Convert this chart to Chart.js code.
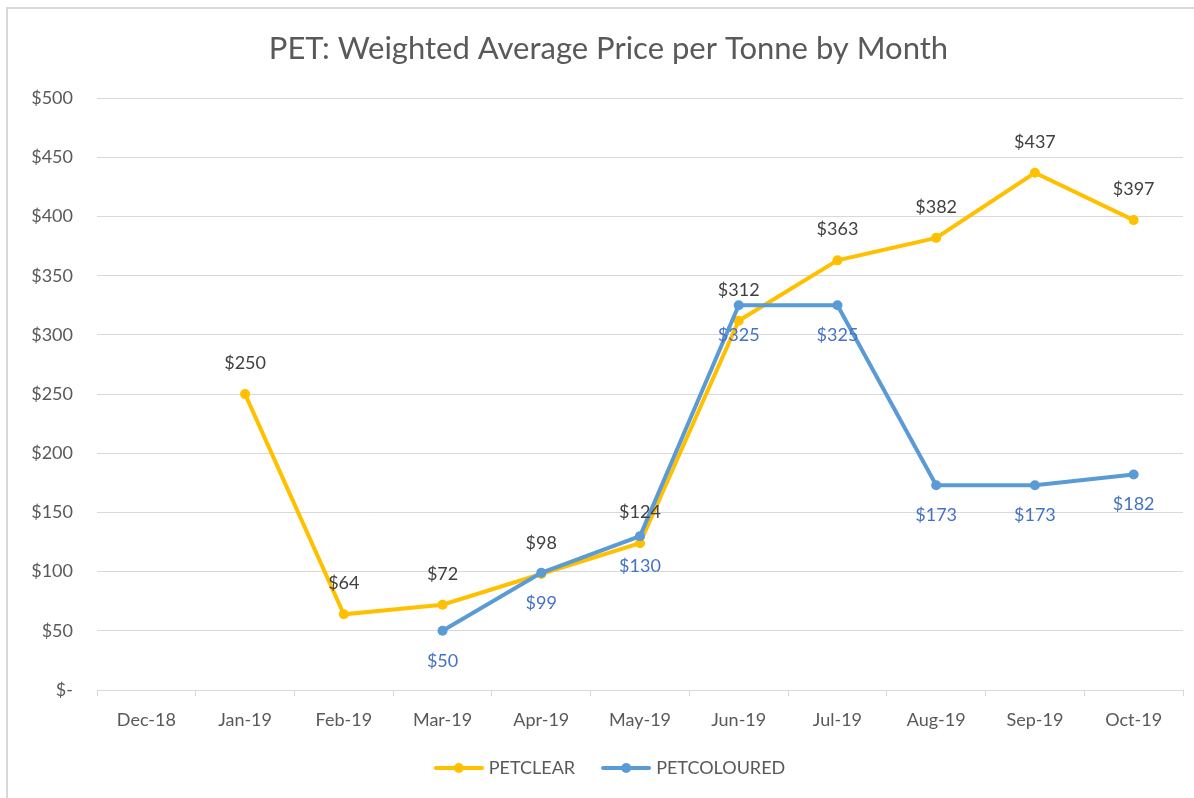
<!DOCTYPE html>
<html>
<head>
<meta charset="utf-8">
<script src="https://cdn.jsdelivr.net/npm/chart.js@4.4.0/dist/chart.umd.min.js"></script>
<style>
  html, body { margin: 0; padding: 0; background: #fff; }
  #wrap { position: relative; width: 1194px; height: 798px; overflow: hidden; }
  #frame { position: absolute; left: 6px; top: 7px; width: 1200px; height: 800px; border: 2px solid #d9d9d9; pointer-events: none; }
</style>
</head>
<body>
<div id="wrap">
  <canvas id="priceChart" width="1194" height="798"></canvas>
  <div id="frame"></div>
</div>
<script>
// dados
const months = ['Dec-18', 'Jan-19', 'Feb-19', 'Mar-19', 'Apr-19', 'May-19', 'Jun-19', 'Jul-19', 'Aug-19', 'Sep-19', 'Oct-19'];
const petClear = [null, 250, 64, 72, 98, 124, 312, 363, 382, 437, 397];
const petColoured = [null, null, null, 50, 99, 130, 325, 325, 173, 173, 182];

const yellow = '#FFC000';
const blue = '#5B9BD5';
const fontFamily = 'Lato, "Noto Sans", sans-serif';

// ícone da legenda: linha com bolinha
function legendIcon(color) {
    const c = document.createElement('canvas');
    c.width = 50; c.height = 14;
    const g = c.getContext('2d');
    g.strokeStyle = color;
    g.lineWidth = 4;
    g.lineCap = 'round';
    g.beginPath(); g.moveTo(2, 7); g.lineTo(48, 7); g.stroke();
    g.fillStyle = color;
    g.beginPath(); g.arc(25, 7, 5, 0, Math.PI * 2); g.fill();
    return c;
}

const money = v => (v === 0 ? '$-' : '$' + v);

// rótulos de dados (acima para PETCLEAR, abaixo para PETCOLOURED)
const dataLabels = {
    id: 'dataLabels',
    afterDatasetsDraw(chart) {
        const ctx = chart.ctx;
        ctx.save();
        ctx.font = '18px ' + fontFamily;
        ctx.textAlign = 'center';
        ctx.textBaseline = 'middle';
        chart.data.datasets.forEach((ds, i) => {
            const meta = chart.getDatasetMeta(i);
            meta.data.forEach((pt, j) => {
                const v = ds.data[j];
                if (v === null) return;
                ctx.fillStyle = ds.labelColor;
                ctx.fillText(money(v), pt.x, pt.y + ds.labelOffset);
            });
        });
        ctx.restore();
    }
};

// o quadro original é mais largo que a imagem: título e legenda ficam um pouco à direita
const shiftBlocks = {
    id: 'shiftBlocks',
    afterLayout(chart) {
        if (chart.titleBlock) { chart.titleBlock.left += 17; chart.titleBlock.right += 17; }
        if (chart.legend) { chart.legend.left += 20; chart.legend.right += 20; }
    }
};

const ctx = document.getElementById('priceChart').getContext('2d');
new Chart(ctx, {
    type: 'line',
    data: {
        labels: months,
        datasets: [{
            label: 'PETCLEAR',
            data: petClear,
            borderColor: yellow,
            backgroundColor: yellow,
            borderWidth: 4,
            pointRadius: 5,
            pointHoverRadius: 5,
            pointBorderWidth: 0,
            tension: 0,
            order: 1,
            labelColor: '#404040',
            labelOffset: -31
        }, {
            label: 'PETCOLOURED',
            data: petColoured,
            borderColor: blue,
            backgroundColor: blue,
            borderWidth: 4,
            pointRadius: 5,
            pointHoverRadius: 5,
            pointBorderWidth: 0,
            tension: 0,
            order: 0,
            labelColor: '#4472C4',
            labelOffset: 30
        }]
    },
    options: {
        responsive: false,
        animation: false,
        layout: { padding: { top: 0, right: 11, bottom: 11, left: 0 } },
        plugins: {
            title: {
                display: true,
                text: 'PET: Weighted Average Price per Tonne by Month',
                color: '#595959',
                font: { family: fontFamily, size: 31, weight: 'normal' },
                padding: { top: 30, bottom: 31 }
            },
            legend: {
                position: 'bottom',
                labels: {
                    usePointStyle: true,
                    pointStyleWidth: 42,
                    color: '#595959',
                    font: { family: fontFamily, size: 18 },
                    padding: 30,
                    sort: (a, b) => a.datasetIndex - b.datasetIndex,
                    generateLabels(chart) {
                        const items = Chart.defaults.plugins.legend.labels.generateLabels(chart);
                        items.forEach(it => {
                            it.pointStyle = legendIcon(chart.data.datasets[it.datasetIndex].borderColor);
                        });
                        return items;
                    }
                }
            },
            tooltip: { enabled: false }
        },
        scales: {
            x: {
                offset: true,
                grid: {
                    offset: true,
                    drawOnChartArea: false,
                    drawTicks: true,
                    tickLength: 6,
                    color: '#d9d9d9'
                },
                border: { color: '#d9d9d9', width: 1 },
                ticks: {
                    color: '#595959',
                    font: { family: fontFamily, size: 18 },
                    padding: 13,
                    maxRotation: 0
                },
                afterFit(scale) { scale.height = 39; }
            },
            y: {
                min: 0,
                max: 500,
                ticks: {
                    stepSize: 50,
                    color: '#595959',
                    font: { family: fontFamily, size: 18 },
                    padding: 24,
                    callback: v => money(v)
                },
                grid: { color: '#d9d9d9', drawTicks: false, lineWidth: 1 },
                border: { display: false },
                afterFit(scale) { scale.width = 97; }
            }
        }
    },
    plugins: [dataLabels, shiftBlocks]
});
</script>
</body>
</html>
